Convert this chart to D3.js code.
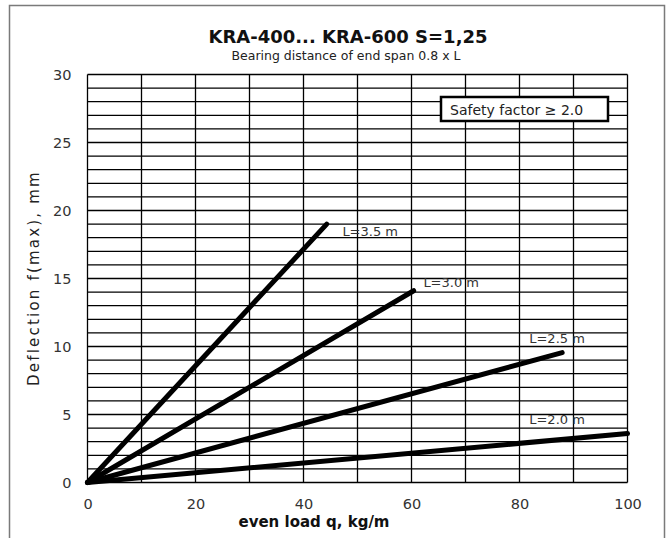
<!DOCTYPE html>
<html>
<head>
<meta charset="utf-8">
<script src="https://cdn.jsdelivr.net/npm/d3@7"></script>
<style>
  html, body { margin: 0; padding: 0; background: #fff; }
  svg { display: block; }
  text { font-family: "DejaVu Sans", sans-serif; }
</style>
</head>
<body>
<svg id="chart" width="668" height="538"></svg>
<script>
// ---- data ----
const title = "KRA-400... KRA-600 S=1,25";
const subtitle = "Bearing distance of end span 0.8 x L";
const xLabel = "even load q, kg/m";
const yLabel = "Deflection f(max), mm";
const legendText = "Safety factor \u2265 2.0";
const xTicks = [0, 20, 40, 60, 80, 100];
const yTicks = [0, 5, 10, 15, 20, 25, 30];
const spanNames = ["L=3.5 m", "L=3.0 m", "L=2.5 m", "L=2.0 m"];
const loadStart = [0, 0, 0, 0];
const deflStart = [0, 0, 0, 0];
const loadEnd = [44.3, 60.4, 87.9, 100];
const deflEnd = [19.0, 14.1, 9.55, 3.6];
const labelLoad = [47.2, 62.2, 81.8, 81.8];
const labelDefl = [18.1, 14.36, 10.24, 4.29];

// ---- layout ----
const svg = d3.select("#chart");
const pL = 87.5, pR = 627.5, pT = 74.5, pB = 482.5;
const x = d3.scaleLinear().domain([0, 100]).range([pL, pR]);
const y = d3.scaleLinear().domain([0, 30]).range([pB, pT]);

// outer frame
svg.append("path")
  .attr("d", "M9.5,545 L9.5,5.5 L664.5,5.5 L664.5,545")
  .attr("fill", "none").attr("stroke", "#7a7a7a").attr("stroke-width", 1.5);

// title
svg.append("text").attr("x", 348).attr("y", 43).attr("text-anchor", "middle")
  .attr("font-size", 18).attr("font-weight", "bold").attr("fill", "#111").text(title);
svg.append("text").attr("x", 346).attr("y", 60).attr("text-anchor", "middle")
  .attr("font-size", 12.5).attr("fill", "#222").text(subtitle);

// grid
const g = svg.append("g");
g.selectAll("line.h").data(d3.range(0, 31, 1)).join("line")
  .attr("x1", pL).attr("x2", pR)
  .attr("y1", d => y(d)).attr("y2", d => y(d))
  .attr("stroke", "#000").attr("stroke-width", 1.3);
g.selectAll("line.v").data(d3.range(0, 101, 10)).join("line")
  .attr("y1", pT).attr("y2", pB)
  .attr("x1", d => x(d)).attr("x2", d => x(d))
  .attr("stroke", "#000").attr("stroke-width", 1.3);

// axes (labels only)
const xAxis = d3.axisBottom(x).tickValues(xTicks).tickSize(0).tickPadding(0);
const gx = svg.append("g").attr("transform", `translate(0,${pB})`).call(xAxis);
gx.select(".domain").remove();
gx.selectAll("text").attr("font-size", 14.5).attr("fill", "#333")
  .attr("font-family", "DejaVu Sans, sans-serif")
  .attr("dy", 0).attr("y", 26);

const yAxis = d3.axisLeft(y).tickValues(yTicks).tickSize(0).tickPadding(0);
const gy = svg.append("g").attr("transform", `translate(${pL},0)`).call(yAxis);
gy.select(".domain").remove();
gy.selectAll("text").attr("font-size", 14.5).attr("fill", "#333")
  .attr("font-family", "DejaVu Sans, sans-serif")
  .attr("x", -16).attr("dy", "0.35em");

// axis titles
svg.append("text").attr("x", 314).attr("y", 527).attr("text-anchor", "middle")
  .attr("font-size", 15).attr("font-weight", "bold").attr("fill", "#111").text(xLabel);
svg.append("text").attr("transform", "translate(39,278) rotate(-90)")
  .attr("text-anchor", "middle").attr("font-size", 15).attr("letter-spacing", 2.2)
  .attr("fill", "#222").text(yLabel);

// curves
const series = spanNames.map((n, i) => ({
  name: n,
  pts: [[loadStart[i], deflStart[i]], [loadEnd[i], deflEnd[i]]],
  lx: labelLoad[i], ly: labelDefl[i]
}));
const line = d3.line().x(d => x(d[0])).y(d => y(d[1]));
svg.selectAll("path.curve").data(series).join("path")
  .attr("class", "curve")
  .attr("d", d => line(d.pts))
  .attr("fill", "none").attr("stroke", "#000").attr("stroke-width", 5)
  .attr("stroke-linecap", "round");

svg.selectAll("text.lbl").data(series).join("text")
  .attr("class", "lbl")
  .attr("x", d => x(d.lx)).attr("y", d => y(d.ly))
  .attr("font-size", 13).attr("fill", "#333").text(d => d.name);

// legend box
svg.append("rect").attr("x", 441).attr("y", 97).attr("width", 167).attr("height", 24)
  .attr("fill", "#fff").attr("stroke", "#000").attr("stroke-width", 2.5);
svg.append("text").attr("x", 450).attr("y", 115)
  .attr("font-size", 14).attr("fill", "#222").text(legendText);
</script>
</body>
</html>
